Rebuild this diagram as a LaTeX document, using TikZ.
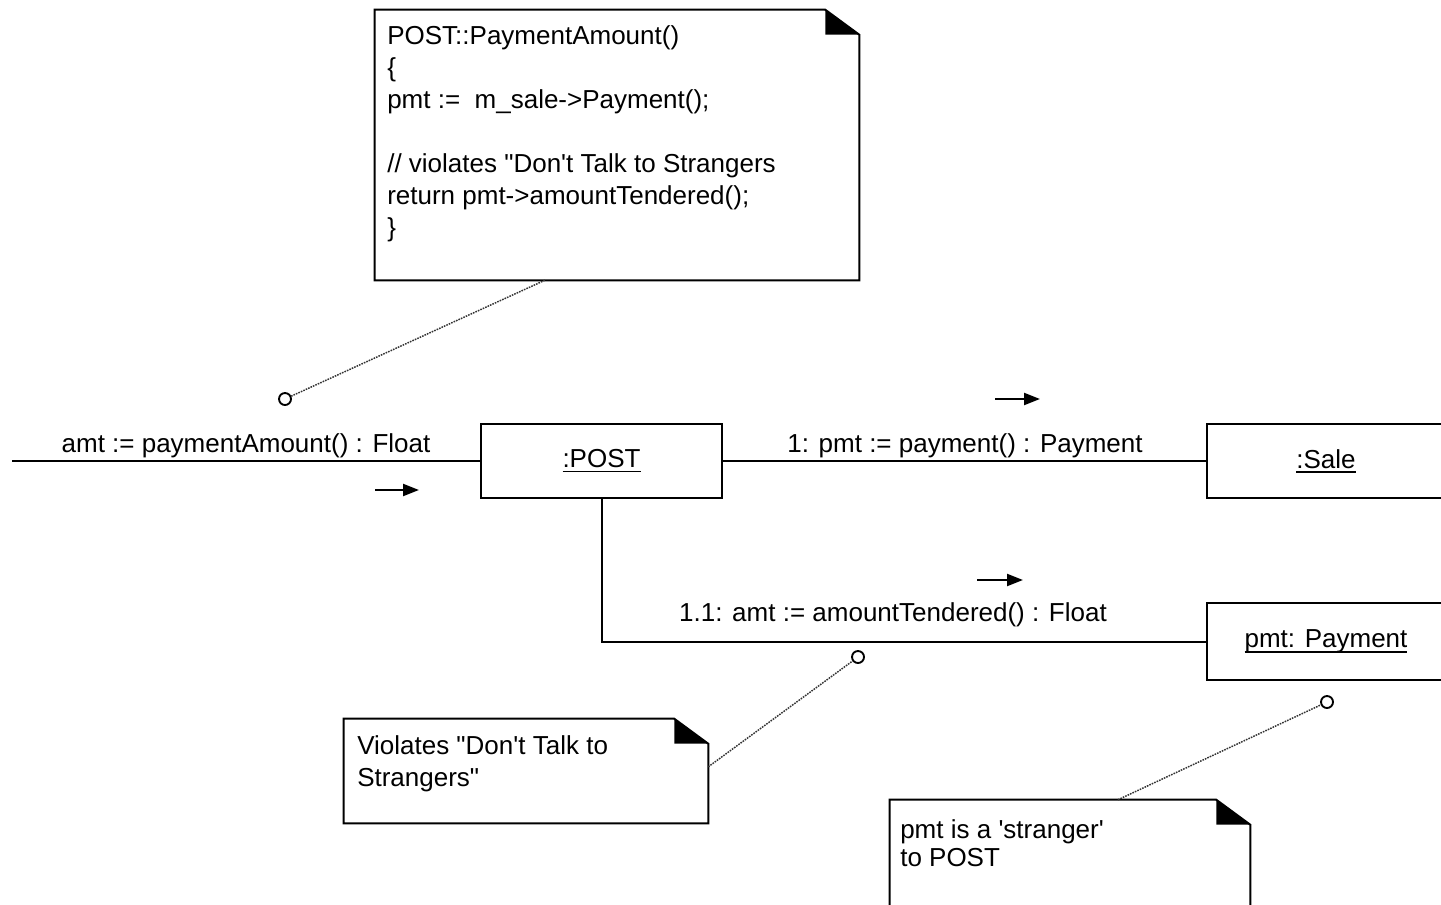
\documentclass[tikz,border=0pt]{standalone}
\usepackage{fontspec}
\newfontfamily\umlfont{Liberation Sans}
\usetikzlibrary{arrows.meta,calc}

% underlined object name with a firm rule
\newcommand\objname[1]{\setbox0\hbox{#1}\rlap{\vrule height -2.2pt depth 3.6pt width \wd0}\box0}

% note outline with a folded (filled) corner
\newcommand\dogear[1]{%
  \draw[notepen] (#1.north west) -- ([xshift=-25.5pt]#1.north east)
     -- ([yshift=-18.75pt]#1.north east) -- (#1.south east) -- (#1.south west) -- cycle;
  \fill ([xshift=-25.5pt]#1.north east) -- ([xshift=-25.5pt,yshift=-18.75pt]#1.north east)
     -- ([yshift=-18.75pt]#1.north east) -- cycle;}

\begin{document}
\begin{tikzpicture}[x=0.75pt,y=-0.75pt,
  umltext/.style={font=\umlfont\fontsize{19.5}{24}\selectfont, inner sep=0pt},
  obj/.style={draw, line width=1.5pt, minimum width=178.5pt, minimum height=55.5pt,
              inner sep=0pt, font=\umlfont\fontsize{19.5}{24}\selectfont},
  notepen/.style={line width=1.5pt, fill=white},
  link/.style={line width=1.5pt},
  msg/.style={line width=1.7pt, -{Triangle[length=12pt,width=9pt]}},
  notelink/.style={black!80, line width=1.1pt, dash pattern=on 1.2pt off 0.8pt},
  anchorpt/.style={circle, draw, fill=white, line width=1.4pt, minimum size=9pt, inner sep=0pt}]

\fill[white] (0,0) rectangle (1441,904);
\useasboundingbox (0,0) rectangle (1441,904);

% ---- notes ----
\node[minimum width=363pt, minimum height=202.5pt, inner sep=0pt] (topnote) at (617,145) {};
\dogear{topnote}
\node[umltext, anchor=north west, align=left] (topnotetext) at (387,25)
  {POST::PaymentAmount()\\ \{\\ pmt :=~~m\_sale->Payment();\\ \mbox{}\\
   // violates "Don't Talk to Strangers\\ return pmt->amountTendered();\\ \}};

\node[minimum width=273pt, minimum height=78pt, inner sep=0pt] (vnote) at (526,771) {};
\dogear{vnote}
\node[umltext, anchor=north west, align=left] (vnotetext) at (357,735)
  {Violates "Don't Talk to\\ Strangers"};

\node[minimum width=270pt, minimum height=82.5pt, inner sep=0pt] (snote) at (1070,855) {};
\dogear{snote}
\node[umltext, font=\umlfont\fontsize{19.5}{21}\selectfont, anchor=north west, align=left]
  (snotetext) at (900,819) {pmt is a 'stranger'\\ to POST};

% ---- objects ----
\node[obj, minimum width=180.75pt] (post) at (601.5,461) {\objname{:POST}};
\node[obj] (sale) at (1326,461) {\objname{:Sale}};
\node[obj, minimum height=57.75pt] (pay) at (1326,641.5) {\objname{pmt: Payment}};

% ---- links ----
\coordinate (actor) at (12,461);
\draw[link] (actor) -- (post.west);
\draw[link] (post.east) -- (sale.west);
\draw[link] (post.south) |- (pay.west);

% ---- message labels and arrows ----
\node[umltext, anchor=base] (m0) at (246,452) {amt := paymentAmount() : Float};
\node[umltext, anchor=base] (m1) at (965,452) {1: pmt := payment() : Payment};
\node[umltext, anchor=base] (m2) at (893,621) {1.1: amt := amountTendered() : Float};

\coordinate (a0s) at (375,490);  \coordinate (a0e) at (419,490);
\coordinate (a1s) at (995,399);  \coordinate (a1e) at (1040,399);
\coordinate (a2s) at (977,580);  \coordinate (a2e) at (1023,580);
\draw[msg] (a0s) -- (a0e);
\draw[msg] (a1s) -- (a1e);
\draw[msg] (a2s) -- (a2e);

% ---- note attachments ----
\node[anchorpt] (c1) at (285,399) {};
\node[anchorpt] (c2) at (858,657) {};
\node[anchorpt] (c3) at (1327,702) {};
\draw[notelink] ($(topnote.south west)!0.351!(topnote.south east)$) -- (c1);
\draw[notelink] ($(vnote.north east)!0.46!(vnote.south east)$) -- (c2);
\draw[notelink] ($(snote.north west)!0.633!(snote.north east)$) -- (c3);

\end{tikzpicture}
\end{document}
